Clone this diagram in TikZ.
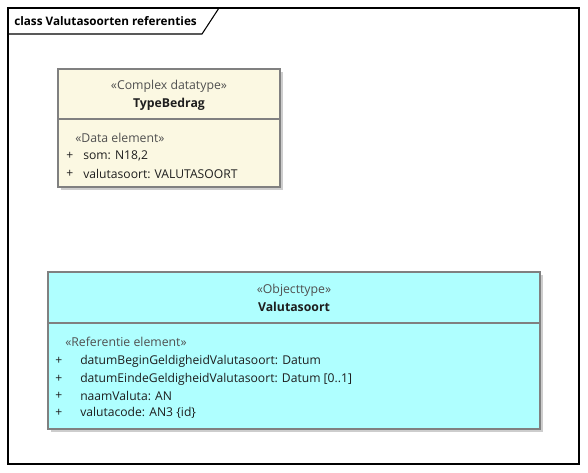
\documentclass[tikz,border=0pt]{standalone}
\usepackage{fontspec}
\setmainfont{Open Sans}
\definecolor{framecol}{RGB}{0,0,0}
\definecolor{boxline}{RGB}{128,128,128}
\definecolor{yellowfill}{RGB}{251,248,226}
\definecolor{cyanfill}{RGB}{175,255,255}
\definecolor{shadowcol}{RGB}{205,205,205}
\definecolor{stereocol}{RGB}{80,80,80}
\definecolor{textcol}{RGB}{30,30,30}
\tikzset{
  px/.style={x=0.75pt,y=-0.75pt},
  umlbox/.style={draw=boxline,line width=0.9pt},
  shadowbox/.style={fill=shadowcol,draw=none},
  stereo/.style={inner sep=0pt,font=\fontsize{9.2pt}{10pt}\selectfont,text=stereocol},
  cname/.style={inner sep=0pt,font=\fontsize{9.2pt}{10pt}\selectfont\bfseries,text=textcol},
  attr/.style={inner sep=0pt,anchor=west,font=\fontsize{9.1pt}{10pt}\selectfont,text=textcol},
}
\begin{document}
\begin{tikzpicture}[px]
\useasboundingbox (0,0) rectangle (588,473);
\fill[white] (0,0) rectangle (588,473);
% frame
\draw[framecol,line width=0.8pt] (8,8) rectangle (579,464);
\draw[framecol,line width=0.8pt] (8,34) -- (202,34) -- (219,8);
\node[anchor=west,inner sep=0pt,font=\fontsize{8.8pt}{10pt}\selectfont\bfseries] (title) at (14,21) {class Valutasoorten referenties};
% TypeBedrag
\fill[shadowbox] (61,72) rectangle (283,190);
\filldraw[umlbox,fill=yellowfill] (58,69) rectangle (280,187);
\draw[umlbox] (58,119) -- (280,119);
\node[stereo] (tbst) at (169,86) {«Complex datatype»};
\node[cname] (tbname) at (169,104) {TypeBedrag};
\node[stereo,anchor=west] (tbde) at (75,138) {«Data element»};
\node[attr] (tbp1) at (66,156) {+};
\node[attr] (tba1) at (83,156) {som: N18,2};
\node[attr] (tbp2) at (66,174) {+};
\node[attr] (tba2) at (83,174) {valutasoort: VALUTASOORT};
% Valutasoort
\fill[shadowbox] (51,275) rectangle (543,432);
\filldraw[umlbox,fill=cyanfill] (48,272) rectangle (540,429);
\draw[umlbox] (48,323) -- (540,323);
\node[stereo] (vsst) at (294,290) {«Objecttype»};
\node[cname] (vsname) at (294,307) {Valutasoort};
\node[stereo,anchor=west] (vsre) at (65,342) {«Referentie element»};
\node[attr] (vsp1) at (55,361) {+};
\node[attr] (vsa1) at (80,361) {datumBeginGeldigheidValutasoort: Datum};
\node[attr] (vsp2) at (55,379) {+};
\node[attr] (vsa2) at (80,379) {datumEindeGeldigheidValutasoort: Datum [0..1]};
\node[attr] (vsp3) at (55,396) {+};
\node[attr] (vsa3) at (80,396) {naamValuta: AN};
\node[attr] (vsp4) at (55,413) {+};
\node[attr] (vsa4) at (80,413) {valutacode: AN3 \{id\}};
\end{tikzpicture}
\end{document}
